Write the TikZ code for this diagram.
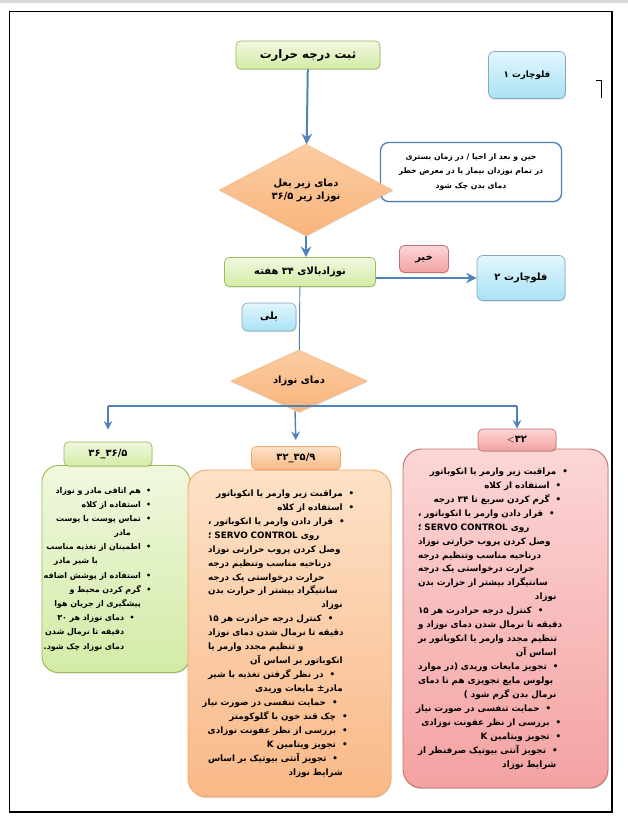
\documentclass[tikz,border=0pt]{standalone}
\usepackage{fontspec}
\newfontfamily\fa[Script=Arabic]{DejaVu Sans}
\TeXXeTstate=1
\usetikzlibrary{arrows.meta,positioning,shapes.geometric,shadows}
\definecolor{ink}{HTML}{000000}
\definecolor{band}{HTML}{D9D9D9}
\definecolor{arrblue}{HTML}{4F81BD}
\definecolor{grnedge}{HTML}{9BBB59}
\definecolor{grntop}{HTML}{F0F8DF}
\definecolor{grnbot}{HTML}{D3EBA6}
\definecolor{bluedge}{HTML}{86A9C2}
\definecolor{blutop}{HTML}{E2F6FC}
\definecolor{blubot}{HTML}{A9E2F5}
\definecolor{orgedge}{HTML}{F5A965}
\definecolor{orgtop}{HTML}{FDE2C8}
\definecolor{orgbot}{HTML}{F9B887}
\definecolor{rededge}{HTML}{C0706E}
\definecolor{redtop}{HTML}{FCD6D6}
\definecolor{redbot}{HTML}{F4A2A2}
\definecolor{dectop}{HTML}{FBCDA3}
\definecolor{decbot}{HTML}{F9B47C}
\newlength\lp \newlength\rp \newlength\bw \newlength\bgap
\newcommand{\rtl}[1]{\beginR #1\endR}
\newcommand{\ltr}[1]{\beginL #1\endL}
\newcommand{\pads}[3]{\setlength\lp{#1}\setlength\rp{#2}\setlength\bgap{#3}%
  \settowidth\bw{•}\addtolength\bw{\bgap}}
\newcommand{\dotmark}{\hbox{•}\hspace*{\bgap}}
% item lines: bi justified first line, bs flush-right item, bj justified
% continuation, bl flush-right last line, bL flush-left last line
\newcommand{\bi}[1]{\noindent\hbox to\hsize{\hspace*{\lp}\beginR\hspace*{\rp}\dotmark #1\endR}\par}
\newcommand{\bs}[2][0pt]{\noindent\hbox to\hsize{\hfill\beginR\hspace*{\rp}\hspace*{#1}\dotmark #2\endR}\par}
\newcommand{\bj}[1]{\noindent\hbox to\hsize{\hspace*{\lp}\beginR\hspace*{\rp}\hspace*{\bw}#1\endR}\par}
\newcommand{\bl}[2][0pt]{\noindent\hbox to\hsize{\hfill\beginR\hspace*{\rp}\hspace*{#1}\hspace*{\bw}#2\endR}\par}
\newcommand{\bL}[1]{\noindent\hbox to\hsize{\hspace*{\lp}\beginR\hspace*{\rp}\hspace*{\bw}\hfill #1\endR}\par}
\tikzset{
  base/.style={inner sep=1pt,align=center,font=\fa\bfseries\fontsize{8.5}{11}\selectfont,
               drop shadow={shadow xshift=0.5pt,shadow yshift=-1pt,opacity=0.25}},
  greenbox/.style={base,draw=grnedge,top color=grntop,bottom color=grnbot,
                   line width=0.6pt,rounded corners=4pt},
  bluebox/.style={base,draw=bluedge,top color=blutop,bottom color=blubot,
                  line width=0.6pt,rounded corners=5pt},
  orangebox/.style={base,draw=orgedge,top color=orgtop,bottom color=orgbot,
                    line width=0.6pt,rounded corners=4pt},
  redbox/.style={base,draw=rededge,top color=redtop,bottom color=redbot,
                 line width=0.6pt,rounded corners=4pt},
  decision/.style={base,diamond,draw=orgedge!80,top color=dectop,bottom color=decbot,
                   line width=0.6pt,inner sep=0pt},
  notebox/.style={base,draw=arrblue,fill=white,line width=1.1pt,rounded corners=7pt,
                  font=\fa\bfseries\fontsize{6.6}{12}\selectfont},
  listbox/.style={inner sep=0pt,line width=0.8pt,rounded corners=16pt,
                  font=\fa\bfseries\fontsize{7.5}{11.9}\selectfont,
                  drop shadow={shadow xshift=0.5pt,shadow yshift=-1pt,opacity=0.25}},
  flowarr/.style={-{Stealth[length=3.2mm,width=3.2mm,inset=1.1mm]},line width=1.7pt,draw=arrblue},
  splitarr/.style={-{Stealth[length=2.6mm,width=2.6mm,inset=0.9mm]},line width=1.2pt,draw=arrblue},
  splitline/.style={line width=1.2pt,draw=arrblue},
  thinline/.style={line width=0.8pt,draw=arrblue}
}
\begin{document}
\begin{tikzpicture}[x=0.3mm,y=-0.3mm]
  \path[use as bounding box] (0,0) rectangle (628,817);
  \fill[white] (0,0) rectangle (628,817);
  \fill[band] (0,0) rectangle (628,3);
  \draw[ink,line width=0.8pt] (9,11) rectangle (612,812);
  \draw[ink,line width=1.8pt] (612,11) -- (612,812) -- (9,812);
  \draw[ink,line width=0.5pt] (596,80) -- (601,80) -- (601,98);

  % top part
  \node[greenbox,minimum width=43.2mm,minimum height=8.4mm,font=\fa\bfseries\fontsize{10}{12}\selectfont]
    (rec) at (308,55) {\rtl{ثبت درجه حرارت}};
  \node[bluebox,minimum width=23.1mm,minimum height=14.1mm,font=\fa\bfseries\fontsize{7.5}{10}\selectfont]
    (fc1) at (527,75) {\rtl{فلوچارت ۱}};
  \node[notebox,minimum width=54.3mm,minimum height=17.7mm] (note) at (471,172)
    {\rtl{حین و بعد از احیا / در زمان بستری}\\\rtl{در تمام نوزدان بیمار یا در معرض خطر}\\\rtl{دمای بدن چک شود}};
  \node[decision,minimum width=51.9mm,minimum height=25.5mm] (dec1) at (306,190)
    {\rtl{دمای زیر بغل}\\\rtl{نوزاد زیر ۳۶/۵}};
  \node[greenbox,minimum width=45.3mm,minimum height=8.7mm] (wk34) at (300,272) {\rtl{نوزادبالای  ۳۴  هفته}};
  \node[redbox,minimum width=14.7mm,minimum height=8.1mm] (no) at (424,259) {\rtl{خیر}};
  \node[bluebox,minimum width=26.4mm,minimum height=13.5mm] (fc2) at (521,278) {\rtl{فلوچارت ۲}};
  \node[bluebox,minimum width=16.2mm,minimum height=8.4mm] (yes) at (269,317) {\rtl{بلی}};
  \node[decision,minimum width=40.8mm,minimum height=14.1mm] (dec2) at (299,381) {\rtl{دمای نوزاد}};

  \draw[flowarr] (rec) -- (dec1);
  \draw[flowarr] (dec1.south) -- (dec1.south |- wk34.north);
  \draw[flowarr] (wk34.east |- fc2.west) -- (fc2.west);
  \draw[thinline] (wk34) -- (dec2);

  % split into the three ranges
  \coordinate (sl) at (108,406);
  \coordinate (sr) at (517,406);
  \coordinate (sm) at (295,411);
  \draw[splitline] (sl) -- (sr);

  \node[listbox,draw=grnedge,top color=grntop,bottom color=grnbot,rounded corners=14pt,
        font=\fa\bfseries\fontsize{6.8}{12.1}\selectfont,
        minimum width=44.4mm,minimum height=62.1mm,text width=44.4mm] (list1) at (116,569) {%
    \pads{3.6mm}{11.6mm}{1.6mm}%
    \bs{هم اتاقی مادر و نوزاد}
    \bs{استفاده از کلاه}
    \bs{تماس پوست با پوست}
    \bl[3mm]{مادر}
    \bs{اطمینان از تغذیه مناسب}
    \bL{با شیر مادر}
    \bs{استفاده از پوشش اضافه}
    \bs{گرم کردن محیط  و}
    \bl{پیشگیری از جریان هوا}
    \bs[5mm]{دمای نوزاد هر ۳۰}
    \bl[5mm]{دقیقه تا نرمال شدن}
    \bl[5mm]{دمای نوزاد چک شود.}
    \vspace*{6mm}};
  \node[listbox,draw=orgedge,top color=orgtop,bottom color=orgbot,
        minimum width=60.9mm,minimum height=98.1mm,text width=60.9mm] (list2) at (289.5,633.5) {%
    \pads{6mm}{11mm}{1.8mm}%
    \bs{مراقبت زیر وارمر یا انکوباتور}
    \bs{استفاده از کلاه}
    \bi{قرار دادن  وارمر یا انکوباتور ،}
    \bj{روی \ltr{SERVO CONTROL} ؛}
    \bj{وصل کردن پروب حرارتی نوزاد}
    \bj{درناحیه مناسب  وتنظیم درجه}
    \bj{حرارت درخواستی   یک درجه}
    \bj{سانتیگراد بیشتر از حرارت بدن}
    \bl{نوزاد}
    \bi{کنترل درجه حرادرت هر ۱۵}
    \bj{دقیقه تا نرمال شدن دمای نوزاد}
    \bj{و  تنظیم  مجدد  وارمر  یا}
    \bl{انکوباتور بر اساس آن}
    \bi{در نظر گرفتن تغذیه با شیر}
    \bl{مادر± مایعات وریدی}
    \bs[5mm]{حمایت تنفسی در صورت نیاز}
    \bs[2mm]{چک قند خون با گلوکومتر}
    \bs[2mm]{بررسی از نظر عفونت نوزادی}
    \bs[2mm]{تجویز ویتامین K}
    \bi{تجویز آنتی بیوتیک بر اساس}
    \bl{شرایط نوزاد}};
  \node[listbox,draw=rededge,top color=redtop,bottom color=redbot,
        minimum width=61.5mm,minimum height=101.7mm,text width=61.5mm] (list3) at (505.5,618.5) {%
    \pads{4.5mm}{12mm}{1.8mm}%
    \bs{مراقبت زیر وارمر یا انکوباتور}
    \bs[2mm]{استفاده از کلاه}
    \bs[2mm]{گرم کردن سریع تا ۳۴ درجه}
    \bi{قرار دادن  وارمر یا انکوباتور ،}
    \bj{روی \ltr{SERVO CONTROL} ؛}
    \bj{وصل کردن پروب حرارتی نوزاد}
    \bj{درناحیه مناسب  وتنظیم درجه}
    \bj{حرارت درخواستی   یک درجه}
    \bj{سانتیگراد بیشتر از حرارت بدن}
    \bl{نوزاد}
    \bi{کنترل درجه حرادرت هر ۱۵}
    \bj{دقیقه تا نرمال شدن دمای نوزاد و}
    \bj{تنظیم مجدد وارمر یا انکوباتور بر}
    \bl{اساس آن}
    \bi{تجویز مایعات وریدی (در موارد}
    \bj{بولوس مایع تجویزی هم تا دمای}
    \bl{نرمال بدن گرم شود )}
    \bs[5mm]{حمایت تنفسی در صورت نیاز}
    \bs[2mm]{بررسی از نظر عفونت نوزادی}
    \bs[2mm]{تجویز ویتامین K}
    \bi{تجویز آنتی بیوتیک صرفنظر از}
    \bl{شرایط نوزاد}};

  \node[greenbox,minimum width=26.4mm,minimum height=7.2mm] (lab1) at (108,454)
    {\hbox{۳۶}\hbox{\_}\hbox{۳۶/۵}};
  \node[orangebox,minimum width=26.7mm,minimum height=6.9mm] (lab2) at (296,458)
    {\hbox{۳۲}\hbox{\_}\hbox{۳۵/۹}};
  \node[redbox,minimum width=23.4mm,minimum height=6.6mm] (lab3) at (517,440)
    {$<$\hbox{۳۲}};

  \draw[splitarr,shorten >=3.6mm] (sl) -- (lab1.north);
  \draw[splitarr,shorten >=1.8mm] (sm) -- (lab2.north);
  \draw[splitarr] (sr) -- (lab3.north);
\end{tikzpicture}
\end{document}
